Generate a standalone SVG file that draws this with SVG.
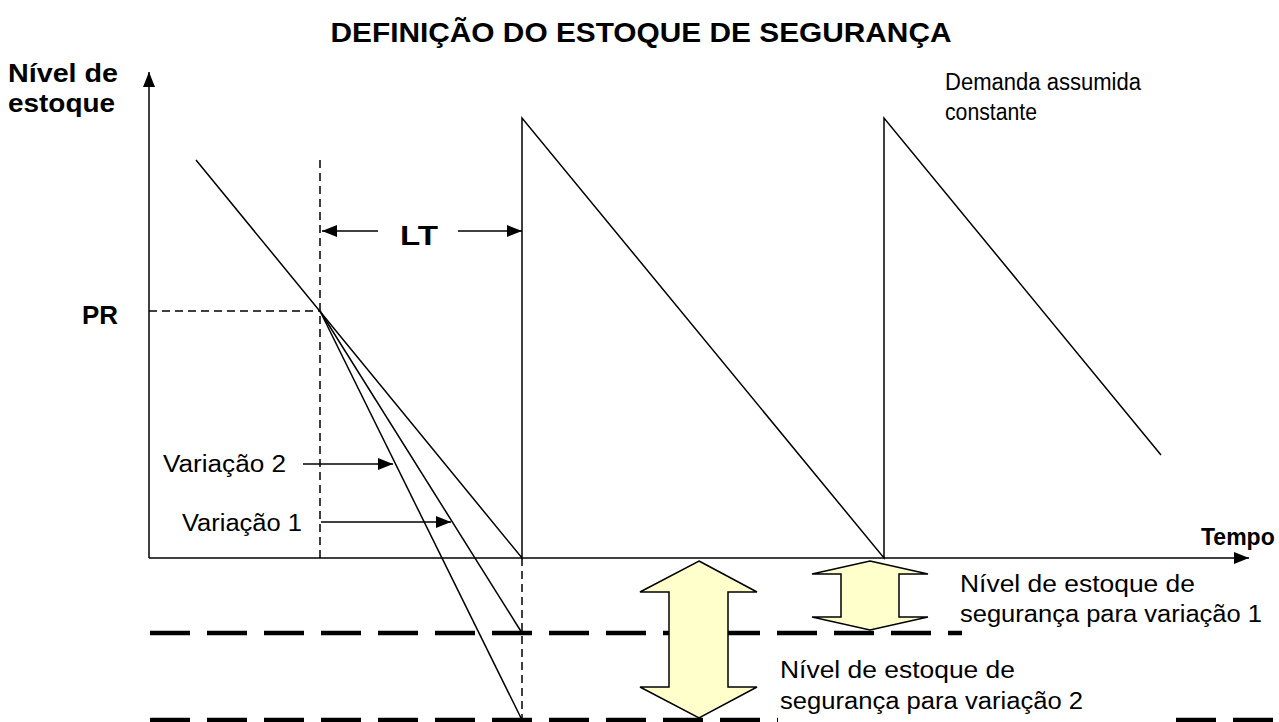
<svg xmlns="http://www.w3.org/2000/svg" width="1279" height="722" viewBox="0 0 1279 722">
<defs>
<style>
.b{font-family:"Liberation Sans",Arial,sans-serif;font-weight:bold;fill:#000}
.r{font-family:"Liberation Sans",Arial,sans-serif;fill:#000}
.ln{stroke:#000;stroke-width:1.5;fill:none}
.dsh{stroke:#000;stroke-width:1.5;fill:none;stroke-dasharray:8 5}
.thick{stroke:#000;stroke-width:4.5;fill:none;stroke-dasharray:40 17}
.dbl{fill:#FFFFCC;stroke:#000;stroke-width:1.5;stroke-linejoin:miter}
</style>
<marker id="ahL" viewBox="0 0 15 12" refX="15" refY="6" markerWidth="15" markerHeight="12" markerUnits="userSpaceOnUse" orient="auto">
<path d="M0,0 L15,6 L0,12 Z" fill="#000"/>
</marker>
</defs>
<rect width="1279" height="722" fill="#fff"/>

<g id="title"><text class="b" x="641" y="42" font-size="28" text-anchor="middle" textLength="621" lengthAdjust="spacingAndGlyphs">DEFINIÇÃO DO ESTOQUE DE SEGURANÇA</text></g>

<g id="axes">
<line class="ln" x1="149" y1="558" x2="149" y2="72" marker-end="url(#ahL)"/>
<line class="ln" x1="149" y1="558" x2="1249" y2="558" marker-end="url(#ahL)"/>
</g>

<g id="label-y">
<text class="b" x="8" y="82" font-size="25" textLength="110" lengthAdjust="spacingAndGlyphs">Nível de</text>
<text class="b" x="8" y="112" font-size="25" textLength="107" lengthAdjust="spacingAndGlyphs">estoque</text>
</g>
<g id="label-x"><text class="b" x="1201" y="545" font-size="23">Tempo</text></g>
<g id="label-pr"><text class="b" x="82" y="324" font-size="25" textLength="36" lengthAdjust="spacingAndGlyphs">PR</text></g>
<g id="label-lt"><text class="b" x="400" y="245" font-size="27" textLength="38" lengthAdjust="spacingAndGlyphs">LT</text></g>
<g id="label-demanda">
<text class="r" x="945" y="90" font-size="23" textLength="196" lengthAdjust="spacingAndGlyphs">Demanda assumida</text>
<text class="r" x="945" y="120" font-size="23" textLength="92" lengthAdjust="spacingAndGlyphs">constante</text>
</g>

<g id="connectors">
<polyline class="ln" points="196,160 522,558 522,118 884,558 884,118 1161,455"/>
<line class="ln" x1="320" y1="311" x2="522" y2="633"/>
<line class="ln" x1="320" y1="311" x2="522" y2="720"/>
<line class="dsh" x1="320" y1="160" x2="320" y2="558"/>
<line class="dsh" x1="149" y1="311" x2="320" y2="311"/>
<line class="dsh" x1="522" y1="558" x2="522" y2="720"/>
<line class="ln" x1="378" y1="231" x2="322" y2="231" marker-end="url(#ahL)"/>
<line class="ln" x1="458" y1="231" x2="522" y2="231" marker-end="url(#ahL)"/>
<line class="ln" x1="303" y1="464" x2="393" y2="464" marker-end="url(#ahL)"/>
<line class="ln" x1="321" y1="522" x2="451" y2="522" marker-end="url(#ahL)"/>
<line class="thick" x1="150" y1="633" x2="962" y2="633"/>
<line class="thick" x1="150" y1="720" x2="1279" y2="720"/>
</g>

<g id="label-var2"><text class="r" x="163" y="472" font-size="23" textLength="123" lengthAdjust="spacingAndGlyphs">Variação 2</text></g>
<g id="label-var1"><text class="r" x="182" y="531" font-size="23" textLength="120" lengthAdjust="spacingAndGlyphs">Variação 1</text></g>

<g id="arrow-big"><path class="dbl" d="M699,561 L757,592 L728,592 L728,687 L757,687 L699,718 L640,687 L669,687 L669,592 L640,592 Z"/></g>
<g id="arrow-small"><path class="dbl" d="M870,561 L928,574 L899,574 L899,617 L928,617 L870,630 L812,617 L841,617 L841,574 L812,574 Z"/></g>

<g id="label-ss1">
<text class="r" x="960" y="592" font-size="23" textLength="235" lengthAdjust="spacingAndGlyphs">Nível de estoque de</text>
<text class="r" x="960" y="622" font-size="23" textLength="302" lengthAdjust="spacingAndGlyphs">segurança para variação 1</text>
</g>
<g id="label-ss2">
<rect x="778" y="655" width="382" height="67" fill="#fff"/>
<text class="r" x="780" y="678" font-size="23" textLength="235" lengthAdjust="spacingAndGlyphs">Nível de estoque de</text>
<text class="r" x="780" y="709" font-size="23" textLength="303" lengthAdjust="spacingAndGlyphs">segurança para variação 2</text>
</g>
</svg>
